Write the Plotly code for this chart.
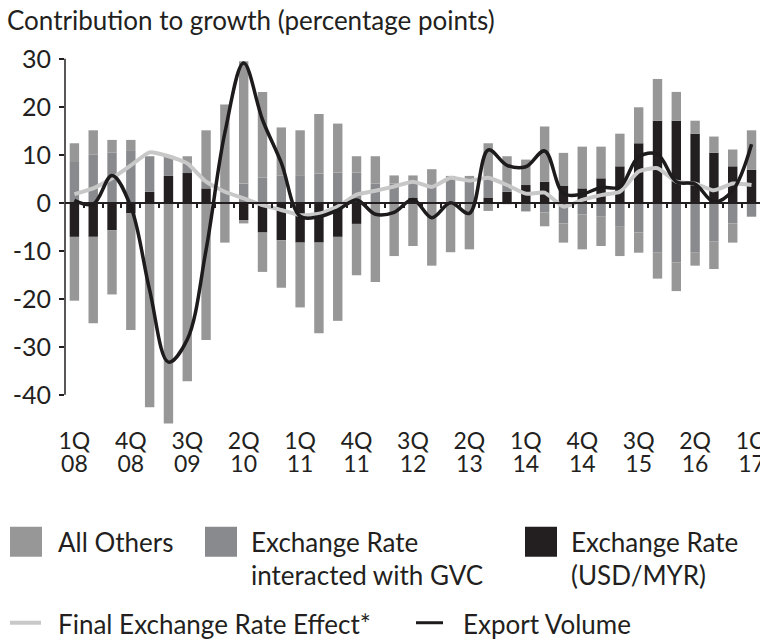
import plotly.graph_objects as go

# ---------------- data ----------------
quarters = ["1Q08", "2Q08", "3Q08", "4Q08", "1Q09", "2Q09", "3Q09", "4Q09",
            "1Q10", "2Q10", "3Q10", "4Q10", "1Q11", "2Q11", "3Q11", "4Q11",
            "1Q12", "2Q12", "3Q12", "4Q12", "1Q13", "2Q13", "3Q13", "4Q13",
            "1Q14", "2Q14", "3Q14", "4Q14", "1Q15", "2Q15", "3Q15", "4Q15",
            "1Q16", "2Q16", "3Q16", "4Q16", "1Q17"]

# Exchange Rate (USD/MYR)
usd_myr = [-7.1, -7.1, -5.7, -2.2, 2.3, 5.6, 6.2, 3.0, 0.0, -3.6, -6.2, -7.8,
           -8.3, -8.3, -7.1, -4.4, 0.0, 0.0, 1.0, 0.0, 0.0, 0.0, 1.0, 2.3,
           3.7, 4.4, 3.5, 3.0, 5.1, 7.6, 12.4, 17.1, 17.1, 14.4, 10.4, 7.6, 6.9]
# Exchange Rate interacted with GVC
gvc = [8.5, 10.0, 10.5, 10.8, 7.4, 4.2, 2.0, 1.4, 2.3, 4.0, 5.2, 5.7,
       5.6, 6.1, 6.3, 6.3, 4.0, 4.0, 3.4, 3.3, 5.2, 4.6, 4.2, 1.4,
       -1.8, -2.0, -4.3, -2.4, -2.9, -5.0, -6.2, -10.4, -12.4, -10.4, -8.1, -4.3, -2.9]
# All Others: positive and negative contributions
others_pos = [3.9, 5.1, 2.6, 2.3, 0.0, 0.0, 1.5, 10.7, 18.2, 25.5, 17.9, 10.0,
              9.5, 12.4, 10.2, 3.4, 5.7, 1.7, 1.3, 3.7, 0.4, 1.0, 7.2, 6.0,
              5.3, 11.5, 6.9, 8.7, 6.6, 6.8, 7.5, 8.7, 6.0, 2.7, 3.4, 3.5, 8.2]
others_neg = [-13.3, -18.0, -13.4, -24.3, -42.6, -46.0, -37.2, -28.6, -8.3, -0.7, -8.2, -9.9,
              -13.5, -18.9, -17.5, -10.7, -16.5, -11.1, -9.0, -13.1, -10.3, -9.7, -1.7, -0.3,
              0.0, -2.9, -4.0, -7.3, -6.1, -6.1, -4.2, -5.4, -6.0, -2.7, -5.7, -4.0, 0.0]
# Final Exchange Rate Effect*
final_er = [1.8, 3.0, 5.1, 7.8, 10.5, 9.7, 8.2, 4.4, 2.3, 0.9, -0.5, -1.5,
            -2.6, -2.3, -0.8, 1.7, 2.5, 3.4, 4.4, 3.3, 5.2, 4.6, 5.2, 3.7,
            1.9, 2.1, -0.8, 0.6, 1.6, 2.3, 6.5, 7.2, 4.4, 4.0, 2.6, 4.0, 3.7]
# Export Volume
export_vol = [0.5, -0.3, 5.7, -0.8, -18.2, -33.2, -28.5, -9.8, 14.6, 29.1, 17.3, 8.3,
              -2.8, -2.9, -1.5, 0.6, -2.4, -2.0, 0.7, -3.1, 0.0, -2.2, 11.0, 7.8,
              7.5, 10.8, 1.9, 1.8, 3.2, 3.3, 9.6, 10.1, 4.4, 3.9, 0.2, 2.6, 12.2]

tick_quarters = ["1Q08", "4Q08", "3Q09", "2Q10", "1Q11", "4Q11", "3Q12",
                 "2Q13", "1Q14", "4Q14", "3Q15", "2Q16", "1Q17"]
tick_q_text = ["1Q", "4Q", "3Q", "2Q", "1Q", "4Q", "3Q", "2Q", "1Q", "4Q", "3Q", "2Q", "1Q"]
tick_y_text = ["08", "08", "09", "10", "11", "11", "12", "13", "14", "14", "15", "16", "17"]
y_ticks = [30, 20, 10, 0, -10, -20, -30, -40]
y_tick_text = ["30", "20", "10", "0", "-10", "-20", "-30", "-40"]

# ---------------- style ----------------
C_OTHERS = "#979797"
C_GVC = "#898a8d"
C_USD = "#231f20"
C_FINAL = "#c8c8c8"
C_EXPORT = "#1d1b1b"
TXT = "#231f20"
FONT = "Lato"
FS = 26      # title / legend
FS_Y = 25    # y tick labels
FS_X = 23    # x tick labels

W, H = 760, 641
YMIN, YMAX = -46.3, 31
PX_PER_UNIT = 4.8
ZERO_PY = 203
MT = ZERO_PY - YMAX * PX_PER_UNIT
PH = (YMAX - YMIN) * PX_PER_UNIT
ML, MR = 65, 0
MB = H - MT - PH
PW = W - ML - MR

x_idx = list(range(len(quarters)))
tick_pos = [quarters.index(q) for q in tick_quarters]
half_ticks = [i + 0.5 for i in x_idx]
zero_pos = (0 - YMIN) / (YMAX - YMIN)
XR = [-0.5, 36.45]


def px_x(px):
    return (px - ML) / PW


def px_y(py):
    return (H - MB - py) / PH


fig = go.Figure()
bw = 0.5
fig.add_trace(go.Bar(x=x_idx, y=usd_myr, width=bw, marker=dict(color=C_USD, line=dict(width=0)),
                     name="Exchange Rate (USD/MYR)"))
fig.add_trace(go.Bar(x=x_idx, y=gvc, width=bw, marker=dict(color=C_GVC, line=dict(width=0)),
                     name="Exchange Rate interacted with GVC"))
fig.add_trace(go.Bar(x=x_idx, y=others_pos, width=bw, marker=dict(color=C_OTHERS, line=dict(width=0)),
                     name="All Others"))
fig.add_trace(go.Bar(x=x_idx, y=others_neg, width=bw, marker=dict(color=C_OTHERS, line=dict(width=0)),
                     name="All Others", showlegend=False))
fig.add_trace(go.Scatter(x=x_idx, y=final_er, mode="lines", xaxis="x2",
                         line=dict(color=C_FINAL, width=4, shape="spline", smoothing=0.5),
                         name="Final Exchange Rate Effect*"))
fig.add_trace(go.Scatter(x=x_idx, y=export_vol, mode="lines", xaxis="x3",
                         line=dict(color=C_EXPORT, width=3.5, shape="spline", smoothing=1.0),
                         name="Export Volume"))

fig.update_layout(
    width=W, height=H,
    margin=dict(l=ML, r=MR, t=MT, b=MB, pad=0, autoexpand=False),
    paper_bgcolor="white", plot_bgcolor="white",
    barmode="relative",
    showlegend=False,
    font=dict(family=FONT, size=FS, color=TXT),
    xaxis=dict(range=XR, autorange=False, tickmode="array", tickvals=tick_pos, ticktext=tick_q_text,
               ticks="", showgrid=False, zeroline=False, showline=False, automargin=False,
               tickfont=dict(size=FS_X, color=TXT), ticklabelstandoff=0,
               ticklabeloverflow="allow"),
    xaxis2=dict(overlaying="x", range=XR, autorange=False, anchor="free", position=zero_pos,
                side="bottom", automargin=False,
                tickmode="array", tickvals=half_ticks, ticks="outside", ticklen=4, tickwidth=1.5,
                tickcolor=TXT, showticklabels=False, showline=True, linecolor=TXT, linewidth=1.5,
                showgrid=False, zeroline=False),
    xaxis3=dict(overlaying="x", range=XR, autorange=False, anchor="free", position=0, side="bottom",
                tickmode="array", tickvals=tick_pos, ticktext=tick_y_text, ticks="",
                showline=False, showgrid=False, zeroline=False, automargin=False,
                tickfont=dict(size=FS_X, color=TXT), ticklabelstandoff=23,
                ticklabeloverflow="allow"),
    yaxis=dict(range=[YMIN, YMAX], autorange=False, tickmode="array", tickvals=y_ticks,
               ticktext=y_tick_text, automargin=False,
               ticks="outside", ticklen=5, tickwidth=1.5, tickcolor=TXT,
               showgrid=False, zeroline=False, showline=False,
               tickfont=dict(size=FS_Y, color=TXT), ticklabelstandoff=3),
)

shapes = []
# y axis line spanning -40..30
shapes.append(dict(type="line", xref="paper", yref="y", x0=0, x1=0, y0=-40, y1=30,
                   line=dict(color=TXT, width=1.5), layer="above"))
# legend swatches
for (x0, x1, col) in [(10, 42, C_OTHERS), (205, 237, C_GVC), (525, 557, C_USD)]:
    shapes.append(dict(type="rect", xref="paper", yref="paper",
                       x0=px_x(x0), x1=px_x(x1), y0=px_y(557), y1=px_y(527),
                       fillcolor=col, line=dict(width=0)))
shapes.append(dict(type="line", xref="paper", yref="paper", x0=px_x(10), x1=px_x(41),
                   y0=px_y(623), y1=px_y(623), line=dict(color=C_FINAL, width=4)))
shapes.append(dict(type="line", xref="paper", yref="paper", x0=px_x(416), x1=px_x(443),
                   y0=px_y(623), y1=px_y(623), line=dict(color=C_EXPORT, width=3)))
fig.update_layout(shapes=shapes)

annots = []


def txt(s, px, py, size=FS):
    annots.append(dict(text=s, xref="paper", yref="paper", x=px_x(px), y=px_y(py),
                       xanchor="left", yanchor="middle", showarrow=False,
                       font=dict(family=FONT, size=size, color=TXT)))


txt("Contribution to growth (percentage points)", 5, 20)
txt("All Others", 56, 542)
txt("Exchange Rate", 249, 542)
txt("interacted with GVC", 249, 575)
txt("Exchange Rate", 569, 542)
txt("(USD/MYR)", 569, 575)
txt("Final Exchange Rate Effect*", 56, 624)
txt("Export Volume", 461, 624)
fig.update_layout(annotations=annots)

fig.write_html("out.html", config={"displayModeBar": False},
               post_script="document.body.style.margin='0px';")
